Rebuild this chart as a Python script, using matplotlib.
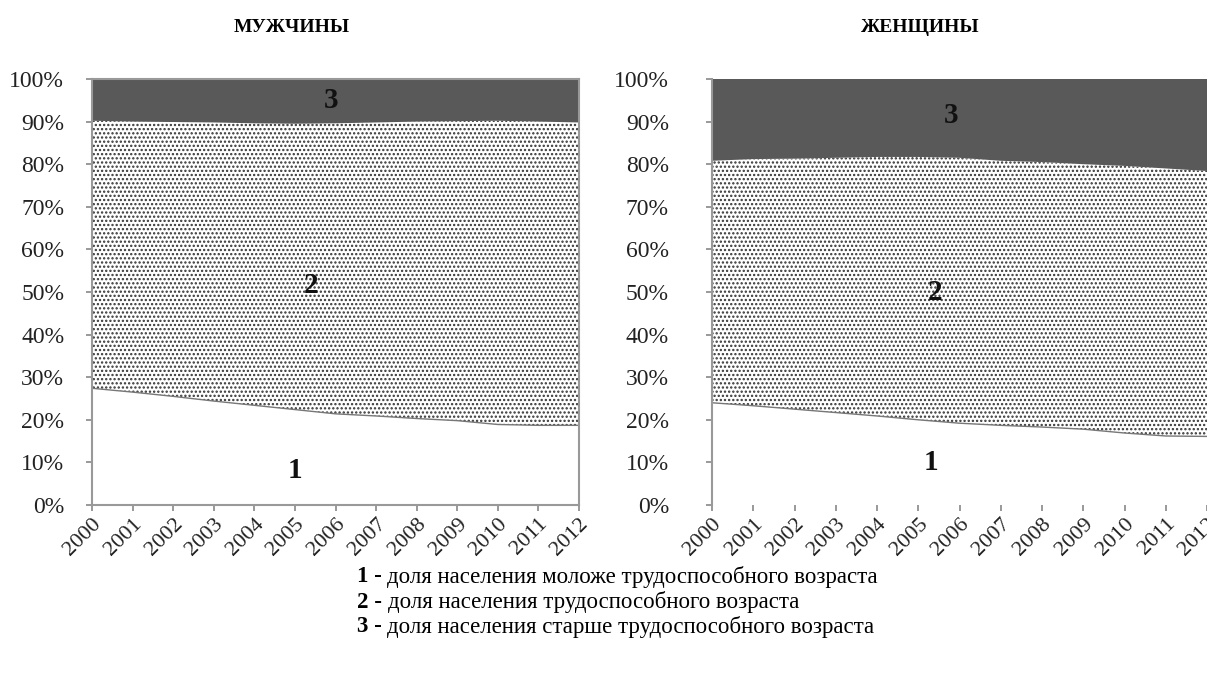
import numpy as np
import matplotlib
matplotlib.use("Agg")
import matplotlib.pyplot as plt

plt.rcParams['font.family'] = ['Liberation Serif', 'DejaVu Serif']
plt.rcParams['hatch.linewidth'] = 1.1
plt.rcParams['hatch.color'] = '#222222'

# Data (shares, %)
years = [2000, 2001, 2002, 2003, 2004, 2005, 2006, 2007, 2008, 2009, 2010, 2011, 2012]
year_labels = [str(y) for y in years]

men_young = [27.4, 26.5, 25.5, 24.4, 23.4, 22.4, 21.4, 20.9, 20.3, 19.8, 18.9, 18.7, 18.7]
men_working = [62.8, 63.5, 64.4, 65.4, 66.2, 67.1, 68.2, 68.9, 69.7, 70.3, 71.3, 71.3, 71.1]
men_old = [9.8, 10.0, 10.1, 10.2, 10.4, 10.5, 10.4, 10.2, 10.0, 9.9, 9.8, 10.0, 10.2]

women_young = [24.0, 23.3, 22.5, 21.7, 20.9, 20.0, 19.2, 18.7, 18.3, 17.8, 16.9, 16.2, 16.1]
women_working = [56.8, 57.9, 58.8, 59.8, 60.8, 61.7, 62.3, 62.1, 62.2, 62.2, 62.7, 62.8, 62.3]
women_old = [19.2, 18.8, 18.7, 18.5, 18.3, 18.3, 18.5, 19.2, 19.5, 20.0, 20.4, 21.0, 21.6]

# label positions (x in years, y in %)
men_labels = [(2005.0, 8.0, '1'), (2005.4, 51.5, '2'), (2005.9, 95.0, '3')]
women_labels = [(2005.3, 10.0, '1'), (2005.4, 50.0, '2'), (2005.8, 91.5, '3')]

legend_lines = [
    ('1 -', 'доля населения моложе трудоспособного возраста'),
    ('2 -', 'доля населения трудоспособного возраста'),
    ('3 -', 'доля населения старше трудоспособного возраста'),
]

W, H = 1207, 684
fig = plt.figure(figsize=(W / 100, H / 100), dpi=100)


def px_axes(x0, y0, x1, y1):
    return fig.add_axes([x0 / W, 1 - y1 / H, (x1 - x0) / W, (y1 - y0) / H])


def draw_panel(ax, young, working, old, labels, title, title_x, ypad):
    x = np.array(years)
    y1 = np.array(young)
    y2 = y1 + np.array(working)
    ax.fill_between(x, 0, y1, facecolor='white', edgecolor='none')
    ax.fill_between(x, y1, y2, facecolor='white', edgecolor='#333333',
                    hatch='....', linewidth=0)
    ax.fill_between(x, y2, 100, facecolor='#595959', edgecolor='none')
    ax.plot(x, y1, color='#777777', lw=1.0)
    ax.set_xlim(years[0], years[-1])
    ax.set_ylim(0, 100)
    ax.set_yticks(range(0, 101, 10))
    ax.set_yticklabels([f'{v}%' for v in range(0, 101, 10)], fontsize=17, color='#222222')
    ax.set_xticks(years)
    ax.set_xticklabels(year_labels, rotation=45, ha='right', va='top',
                       rotation_mode='anchor', fontsize=16, color='#222222')
    ax.tick_params(axis='both', color='#888888', length=4, width=1.2)
    ax.tick_params(axis='y', pad=ypad)
    ax.tick_params(axis='x', pad=3)
    for s in ax.spines.values():
        s.set_color('#999999')
        s.set_linewidth(1.5)
    for lx, ly, t in labels:
        ax.text(lx, ly, t, ha='center', va='center', fontsize=21,
                fontweight='bold', color='#111111')
    ax.text(title_x, 1.0 + 51 / 426, title, transform=ax.transAxes,
            ha='center', va='center', fontsize=14, fontweight='bold')


ax1 = px_axes(92, 79, 579, 505)
draw_panel(ax1, men_young, men_working, men_old, men_labels, 'МУЖЧИНЫ', 0.41, 16)

ax2 = px_axes(712, 79, 1207, 505)
draw_panel(ax2, women_young, women_working, women_old, women_labels, 'ЖЕНЩИНЫ', 0.42, 27)
ax2.spines['bottom'].set_visible(False)
ax2.spines['right'].set_visible(False)
ax2.spines['top'].set_visible(False)

# legend block below the charts
for i, (num, txt) in enumerate(legend_lines):
    y = 1 - (577 + 25 * i) / H
    t = fig.text(357 / W, y, num, fontsize=16.5, fontweight='bold', va='center', ha='left')
    ax1.annotate(txt, xy=(1, 0.5), xycoords=t, xytext=(4, 0), textcoords='offset points',
                 fontsize=16.5, va='center', ha='left', annotation_clip=False)

fig.savefig('out.png', dpi=100)
